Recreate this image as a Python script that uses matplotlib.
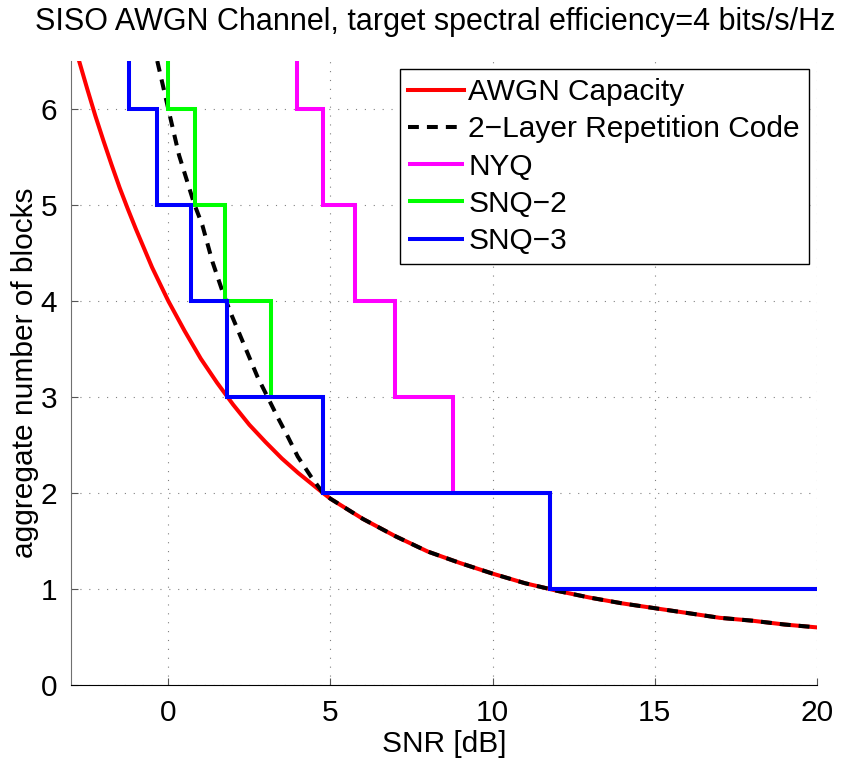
import numpy as np
import matplotlib
matplotlib.use("Agg")
import matplotlib.pyplot as plt

plt.rcParams['font.family'] = ['Liberation Sans', 'DejaVu Sans']

# Required number of blocks for AWGN capacity at 4 bits/s/Hz
cap_snr_db = [-2.75, -2.5, -2.25, -2.0, -1.75, -1.5, -1.25, -1.0, -0.5, 0.0, 0.5, 1.0,
              1.5, 2.0, 2.5, 3.0, 3.5, 4.0, 4.77, 5.0, 6.0, 7.0, 8.0, 9.0, 10.0, 11.0,
              11.76, 12.0, 13.0, 14.0, 15.0, 16.0, 17.0, 18.0, 19.0, 20.0]
cap_blocks = [6.50, 6.21, 5.93, 5.67, 5.42, 5.18, 4.96, 4.75, 4.35, 4.00, 3.69, 3.40,
              3.15, 2.92, 2.71, 2.53, 2.36, 2.21, 2.00, 1.94, 1.73, 1.55, 1.39, 1.27, 1.16, 1.06,
              1.00, 0.98, 0.91, 0.85, 0.80, 0.75, 0.70, 0.67, 0.63, 0.60]

# 2-layer repetition code
rep_snr_db = [-0.34, 0.0, 0.33, 0.79, 1.05, 1.36, 1.67, 1.93, 2.44, 2.75, 3.06, 3.37,
              3.68, 3.99, 4.40, 4.77, 5.0, 6.0, 7.0, 8.0, 9.0, 10.0, 11.0,
              11.76, 12.0, 13.0, 14.0, 15.0, 16.0, 17.0, 18.0, 19.0, 20.0]
rep_blocks = [6.50, 6.00, 5.52, 5.02, 4.79, 4.41, 4.10, 3.87, 3.46, 3.21, 3.00, 2.79,
              2.59, 2.38, 2.17, 2.00, 1.94, 1.73, 1.55, 1.39, 1.27, 1.16, 1.06,
              1.00, 0.98, 0.91, 0.85, 0.80, 0.75, 0.70, 0.67, 0.63, 0.60]

# Quantized schemes: SNR (dB) from which each block count suffices
block_levels = [6, 5, 4, 3, 2, 1]
nyq_snr_db = [3.97, 4.78, 5.76, 6.99, 8.77, 11.76]
snq2_snr_db = [0.0, 0.83, 1.75, 3.18, 4.77, 11.76]
snq3_snr_db = [-1.21, -0.34, 0.71, 1.82, 4.77, 11.76]

x_ticks = [0, 5, 10, 15, 20]
y_ticks = [0, 1, 2, 3, 4, 5, 6]
X_MIN, X_MAX = -3, 20
Y_MIN, Y_MAX = 0, 6.5

fig = plt.figure(figsize=(8.47, 7.59), dpi=100)
ax = fig.add_axes([71 / 847, 74 / 759, 746 / 847, 624 / 759])

LW = 2.9
ax.plot(cap_snr_db, cap_blocks, color='#ff0000', lw=LW, label='AWGN Capacity', zorder=3)
ax.plot(rep_snr_db, rep_blocks, color='black', lw=LW, linestyle=(0, (2.7, 2.0)),
        dash_capstyle='butt', label='2\u2212Layer Repetition Code', zorder=4)


def staircase(thresholds, levels):
    xs = np.r_[thresholds[0], thresholds, X_MAX]
    ys = np.r_[Y_MAX + 1, levels, levels[-1]]
    return xs, ys


for thr, color, name, z in [(nyq_snr_db, '#ff00ff', 'NYQ', 5),
                            (snq2_snr_db, '#00ff00', 'SNQ\u22122', 6),
                            (snq3_snr_db, '#0000ff', 'SNQ\u22123', 7)]:
    xs, ys = staircase(thr, block_levels)
    ax.step(xs, ys, where='post', color=color, lw=LW, label=name, zorder=z,
            solid_joinstyle='miter', solid_capstyle='butt')

ax.set_xlim(X_MIN, X_MAX)
ax.set_ylim(Y_MIN, Y_MAX)
ax.set_xticks(x_ticks)
ax.set_yticks(y_ticks)

ax.grid(True, color='#808080', lw=0.8, linestyle=(0, (1, 7)))
ax.set_axisbelow(True)

for side in ('top', 'right'):
    ax.spines[side].set_visible(False)
ax.spines['left'].set_color('#707070')
ax.spines['bottom'].set_color('black')
ax.tick_params(direction='in', length=5, width=0.8, labelsize=21.5, pad=10,
               colors='#555555', labelcolor='black')

ax.set_xlabel('SNR [dB]', fontsize=21.5, labelpad=2)
ax.set_ylabel('aggregate number of blocks', fontsize=21.5, labelpad=1)
ax.set_title('SISO AWGN Channel, target spectral efficiency=4 bits/s/Hz',
             fontsize=22, pad=22, x=0.488)

leg = ax.legend(loc='upper right', bbox_to_anchor=(0.989, 0.987), borderaxespad=0,
                fontsize=21.5, fancybox=False, framealpha=1, edgecolor='black',
                handlelength=1.87, handletextpad=0.13, labelspacing=0.31,
                borderpad=0.3)
leg.get_frame().set_linewidth(1.0)

fig.savefig('out.png', dpi=100)
